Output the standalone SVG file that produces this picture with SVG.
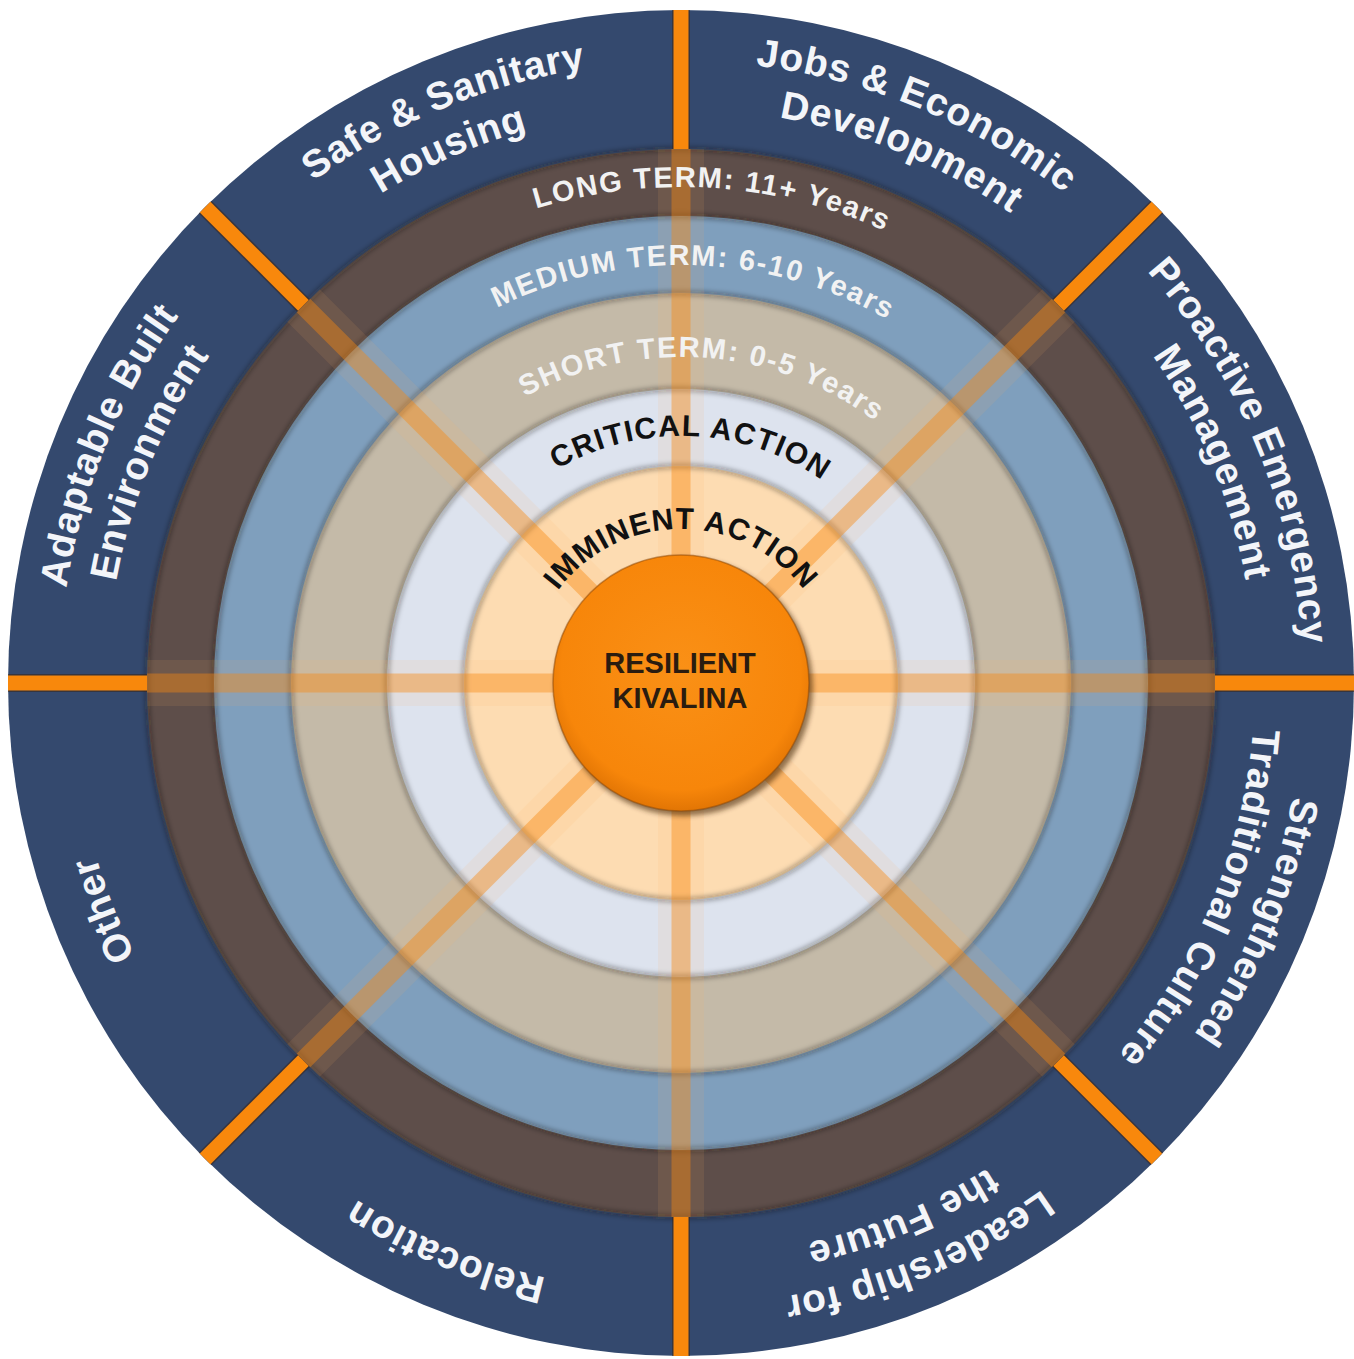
<svg xmlns="http://www.w3.org/2000/svg" width="1354" height="1359" viewBox="0 0 1354 1359">
<defs>
<style>
.lbl{font-family:"Liberation Sans",Arial,sans-serif;font-weight:bold;font-size:39px;fill:#f3f5f9;letter-spacing:0.8px}
.term{font-family:"Liberation Sans",Arial,sans-serif;font-weight:bold;font-size:29px;fill:#f2f2f2;letter-spacing:1.7px}
.act{font-family:"Liberation Sans",Arial,sans-serif;font-weight:bold;font-size:30px;fill:#111111}
.core{font-family:"Liberation Sans",Arial,sans-serif;font-weight:bold;font-size:29px;fill:#2a1c10;text-anchor:middle}
.spoke-glow{stroke:#ffb060;stroke-opacity:0.10;stroke-width:46}
.spoke-in{stroke:#f7870f;stroke-opacity:0.42;stroke-width:19}
.spoke-edge{stroke:#3a2418;stroke-opacity:0.55;stroke-width:18}
.spoke-out{stroke:#f8880c;stroke-width:15}
.edge{fill:none;stroke:#1a1410;stroke-opacity:0.35;stroke-width:5}
</style>
<filter id="soft" x="-10%" y="-10%" width="120%" height="120%"><feGaussianBlur stdDeviation="2.5"/></filter>
<radialGradient id="coreGrad" cx="50%" cy="45%" r="55%">
<stop offset="0" stop-color="#fa9016"/>
<stop offset="0.85" stop-color="#f7860a"/>
<stop offset="1" stop-color="#e27504"/>
</radialGradient>
<path id="p622" d="M 61.37 628.79 A 622 622 0 0 1 1300.63 628.79"/>
<path id="p574" d="M 109.19 632.97 A 574 574 0 0 1 1252.81 632.97"/>
<path id="p610" d="M 73.32 629.83 A 610 610 0 0 1 1288.68 629.83"/>
<path id="p496" d="M 186.89 639.77 A 496 496 0 0 1 1175.11 639.77"/>
<path id="p418" d="M 264.59 646.57 A 418 418 0 0 1 1097.41 646.57"/>
<path id="p326" d="M 356.24 654.59 A 326 326 0 0 1 1005.76 654.59"/>
<path id="p247" d="M 434.94 661.47 A 247 247 0 0 1 927.06 661.47"/>
<path id="p154" d="M 527.59 669.58 A 154 154 0 0 1 834.41 669.58"/>
</defs>

<rect width="1354" height="1359" fill="#ffffff"/>

<g id="rings">
<circle id="ring-outer" cx="681" cy="683" r="673" fill="#34496e"/>
<circle id="ring-long" cx="681" cy="683" r="534" fill="#5e4e4a"/>
<circle id="ring-medium" cx="681" cy="683" r="467" fill="#7f9fbd"/>
<circle id="ring-short" cx="681" cy="683" r="390" fill="#c4baa8"/>
<circle id="ring-critical" cx="681" cy="683" r="294" fill="#dde3ee"/>
<circle id="ring-imminent" cx="681" cy="683" r="217" fill="#fddcb2"/>
<g filter="url(#soft)">
<circle class="edge" cx="681" cy="683" r="534"/>
<circle class="edge" cx="681" cy="683" r="467"/>
<circle class="edge" cx="681" cy="683" r="390"/>
<circle class="edge" cx="681" cy="683" r="294"/>
<circle class="edge" cx="681" cy="683" r="217"/>
</g>
</g>

<g id="connectors">
<g id="spokes-inner">
<line class="spoke-glow" x1="147" y1="683" x2="1215" y2="683"/>
<line class="spoke-glow" x1="681" y1="149" x2="681" y2="1217"/>
<line class="spoke-glow" x1="303.41" y1="305.41" x2="1058.59" y2="1060.59"/>
<line class="spoke-glow" x1="1058.59" y1="305.41" x2="303.41" y2="1060.59"/>
<line class="spoke-in" x1="147" y1="683" x2="1215" y2="683"/>
<line class="spoke-in" x1="681" y1="149" x2="681" y2="1217"/>
<line class="spoke-in" x1="303.41" y1="305.41" x2="1058.59" y2="1060.59"/>
<line class="spoke-in" x1="1058.59" y1="305.41" x2="303.41" y2="1060.59"/>
</g>
<g id="spokes-outer">
<line class="spoke-edge" x1="681" y1="149" x2="681" y2="10"/>
<line class="spoke-edge" x1="1058.59" y1="305.41" x2="1156.88" y2="207.12"/>
<line class="spoke-edge" x1="1215" y1="683" x2="1354" y2="683"/>
<line class="spoke-edge" x1="1058.59" y1="1060.59" x2="1156.88" y2="1158.88"/>
<line class="spoke-edge" x1="681" y1="1217" x2="681" y2="1356"/>
<line class="spoke-edge" x1="303.41" y1="1060.59" x2="205.12" y2="1158.88"/>
<line class="spoke-edge" x1="147" y1="683" x2="8" y2="683"/>
<line class="spoke-edge" x1="303.41" y1="305.41" x2="205.12" y2="207.12"/>
<line class="spoke-out" x1="681" y1="149" x2="681" y2="10"/>
<line class="spoke-out" x1="1058.59" y1="305.41" x2="1156.88" y2="207.12"/>
<line class="spoke-out" x1="1215" y1="683" x2="1354" y2="683"/>
<line class="spoke-out" x1="1058.59" y1="1060.59" x2="1156.88" y2="1158.88"/>
<line class="spoke-out" x1="681" y1="1217" x2="681" y2="1356"/>
<line class="spoke-out" x1="303.41" y1="1060.59" x2="205.12" y2="1158.88"/>
<line class="spoke-out" x1="147" y1="683" x2="8" y2="683"/>
<line class="spoke-out" x1="303.41" y1="305.41" x2="205.12" y2="207.12"/>
</g>
</g>

<g id="sector-housing">
<text class="lbl" text-anchor="middle" transform="rotate(-22.5 681 683)"><textPath href="#p622" startOffset="50%">Safe &amp; Sanitary</textPath></text>
<text class="lbl" text-anchor="middle" transform="rotate(-23.5 681 683)"><textPath href="#p574" startOffset="50%">Housing</textPath></text>
</g>
<g id="sector-jobs">
<text class="lbl" text-anchor="middle" transform="rotate(22.5 681 683)"><textPath href="#p622" startOffset="50%">Jobs &amp; Economic</textPath></text>
<text class="lbl" text-anchor="middle" transform="rotate(22.5 681 683)"><textPath href="#p574" startOffset="50%">Development</textPath></text>
</g>
<g id="sector-emergency">
<text class="lbl" text-anchor="middle" transform="rotate(67.5 681 683)"><textPath href="#p622" startOffset="50%">Proactive Emergency</textPath></text>
<text class="lbl" text-anchor="middle" transform="rotate(67.5 681 683)"><textPath href="#p574" startOffset="50%">Management</textPath></text>
</g>
<g id="sector-culture">
<text class="lbl" text-anchor="middle" transform="rotate(112.5 681 683)"><textPath href="#p622" startOffset="50%">Strengthened</textPath></text>
<text class="lbl" text-anchor="middle" transform="rotate(112.5 681 683)"><textPath href="#p574" startOffset="50%">Traditional Culture</textPath></text>
</g>
<g id="sector-leadership">
<text class="lbl" text-anchor="middle" transform="rotate(157.5 681 683)"><textPath href="#p622" startOffset="50%">Leadership for</textPath></text>
<text class="lbl" text-anchor="middle" transform="rotate(157.5 681 683)"><textPath href="#p574" startOffset="50%">the Future</textPath></text>
</g>
<g id="sector-relocation">
<text class="lbl" text-anchor="middle" transform="rotate(202.5 681 683)"><textPath href="#p610" startOffset="50%">Relocation</textPath></text>
</g>
<g id="sector-other">
<text class="lbl" text-anchor="middle" transform="rotate(248.5 681 683)"><textPath href="#p610" startOffset="50%">Other</textPath></text>
</g>
<g id="sector-built">
<text class="lbl" text-anchor="middle" transform="rotate(292.5 681 683)"><textPath href="#p622" startOffset="50%">Adaptable Built</textPath></text>
<text class="lbl" text-anchor="middle" transform="rotate(292.5 681 683)"><textPath href="#p574" startOffset="50%">Environment</textPath></text>
</g>

<g id="label-long">
<text class="term" text-anchor="middle" transform="rotate(3.7 681 683)"><textPath href="#p496" startOffset="50%">LONG TERM: 11+ Years</textPath></text>
</g>
<g id="label-medium">
<text class="term" text-anchor="middle" transform="rotate(1.8 681 683)"><textPath href="#p418" startOffset="50%">MEDIUM TERM: 6-10 Years</textPath></text>
</g>
<g id="label-short">
<text class="term" text-anchor="middle" fill="#f3efe8" transform="rotate(4.1 681 683)"><textPath href="#p326" startOffset="50%">SHORT TERM: 0-5 Years</textPath></text>
</g>
<g id="label-critical">
<text class="act" text-anchor="middle" letter-spacing="1.3" transform="rotate(2.4 681 683)"><textPath href="#p247" startOffset="50%">CRITICAL ACTION</textPath></text>
</g>
<g id="label-imminent">
<text class="act" text-anchor="middle" letter-spacing="1" transform="rotate(0 681 683)"><textPath href="#p154" startOffset="50%">IMMINENT ACTION</textPath></text>
</g>

<g id="core">
<circle cx="684" cy="687" r="129" fill="#3a1e05" opacity="0.55" filter="url(#soft)"/>
<circle cx="681" cy="683" r="128" fill="url(#coreGrad)" stroke="#8a4506" stroke-opacity="0.5" stroke-width="1.5"/>
<text class="core" x="680" y="673">RESILIENT</text>
<text class="core" x="680" y="708">KIVALINA</text>
</g>
</svg>
